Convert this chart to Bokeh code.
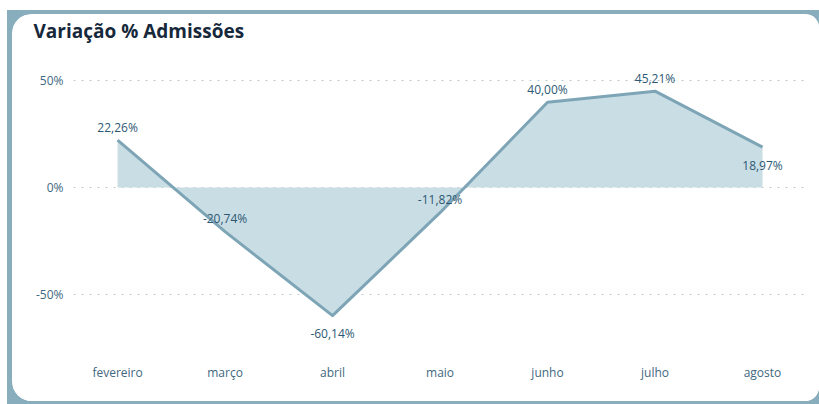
from bokeh.plotting import figure
from bokeh.models import Range1d, ColumnDataSource, FixedTicker, Title
from bokeh.layouts import column
from bokeh.core.properties import value
from bokeh.embed import file_html
from bokeh.resources import INLINE

# ---- data ----
months = ["fevereiro", "março", "abril", "maio", "junho", "julho", "agosto"]
variation = [22.26, -20.74, -60.14, -11.82, 40.00, 45.21, 18.97]
y_ticks = [-50, 0, 50]
y_tick_labels = ["-50%", "0%", "50%"]
title_text = "Variação % Admissões"

# ---- styles ----
FONT = "Open Sans"
FRAME_BLUE = "#88AEBE"
LINE_COLOR = "#7EA5B6"
FILL_COLOR = "#C9DDE4"
LABEL_COLOR = "#2D5873"
AXIS_COLOR = "#3F6880"
TITLE_COLOR = "#16283A"

xs = list(range(len(months)))
labels = [f"{v:.2f}%".replace(".", ",") for v in variation]
vmin = min(variation)
below = [(v == vmin) or (i == len(variation) - 1) for i, v in enumerate(variation)]
offsets = [18 if b else -13 for b in below]

src = ColumnDataSource(dict(x=xs, y=variation, zero=[0] * len(xs), lab=labels, off=offsets))

p = figure(width=807, height=387,
           x_range=Range1d(-0.41, 6.4), y_range=Range1d(-76.5, 59.6),
           output_backend="svg", toolbar_location=None,
           min_border_left=61, min_border_right=14, min_border_top=46, min_border_bottom=51,
           border_fill_color="white", background_fill_color="white")
p.outline_line_color = None
p.styles = {"border-radius": "20px 14px 14px 20px", "overflow": "hidden",
            "background-color": "white"}

# an empty spacer title sits between the plot frame and the real title
spacer = Title(text=" ", text_font_size="1px", standoff=12)
p.add_layout(spacer, "above")

p.title.text = title_text
p.title.text_font = FONT
p.title.text_font_size = "19px"
p.title.text_font_style = "bold"
p.title.text_color = TITLE_COLOR
p.title.align = "left"
p.title.vertical_align = "top"
p.title.offset = -40
p.title.standoff = 0

p.varea(x="x", y1="zero", y2="y", source=src, fill_color=FILL_COLOR, fill_alpha=1.0)
p.line(x="x", y="y", source=src, line_color=LINE_COLOR, line_width=3, line_join="round")

p.text(x="x", y="y", text="lab", source=src, y_offset="off",
       text_align="center", text_baseline="middle",
       text_font=value(FONT), text_font_size="12px", text_color=LABEL_COLOR)

# axes
p.yaxis.ticker = FixedTicker(ticks=y_ticks)
p.yaxis.major_label_overrides = {t: l for t, l in zip(y_ticks, y_tick_labels)}
p.xaxis.ticker = FixedTicker(ticks=xs)
p.xaxis.major_label_overrides = {i: m for i, m in zip(xs, months)}
for ax in (p.xaxis[0], p.yaxis[0]):
    ax.axis_line_color = None
    ax.major_tick_line_color = None
    ax.minor_tick_line_color = None
    ax.major_label_text_font = FONT
    ax.major_label_text_font_size = "12px"
    ax.major_label_text_color = AXIS_COLOR
p.yaxis.major_label_standoff = 4
p.xaxis.major_label_standoff = 7

p.xgrid.grid_line_color = None
p.ygrid.grid_line_color = "#BCC9D0"
p.ygrid.grid_line_dash = "2 6"
p.ygrid.grid_line_width = 1

layout = column(p, width=812, height=394,
                styles={"background-color": FRAME_BLUE, "padding-left": "5px",
                        "padding-top": "4px", "margin-left": "7px", "margin-top": "10px"})

open("out.html", "w").write(file_html(layout, INLINE))
